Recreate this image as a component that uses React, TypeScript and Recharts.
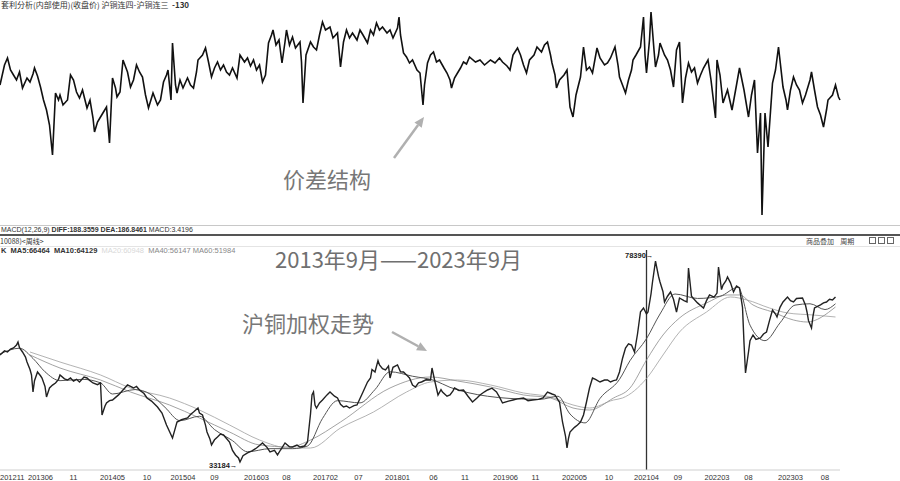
import React from "react";
import { LineChart, Line, XAxis, YAxis, ReferenceLine } from "recharts";

// Spread: 沪铜连四-沪铜连三 (week index since 2012-11, value in yuan)
const spreadPoints: [number, number][] = [
  [0,-55],[3,45],[5,80],[7,20],[9,-5],[11,-30],[13,10],[15,-70],[18,-20],[20,-40],[22,0],[23,30],[25,-10],[27,-65],[29,-130],[31,-180],[33,-255],[35,-405],[37,-95],[39,-130],[40,-105],[42,-155],[45,-130],[47,-5],[49,-30],[51,-90],[53,-120],[55,-80],[58,-170],[60,-130],[62,-220],[63,-290],[65,-240],[67,-215],[69,-190],[71,-165],[73,-345],[75,-20],[77,-70],[78,-115],[80,-90],[82,70],[85,10],[87,-65],[89,-30],[91,45],[93,10],[95,-15],[97,-105],[99,-170],[101,-120],[102,-95],[105,-155],[107,-130],[109,-40],[111,-5],[112,20],[114,-130],[115,155],[117,-55],[118,-95],[120,-30],[122,-70],[125,-20],[127,-55],[129,-70],[131,10],[132,70],[135,95],[137,130],[139,60],[141,-15],[143,30],[145,60],[147,20],[149,45],[151,10],[153,-5],[155,30],[158,-20],[160,95],[163,60],[165,80],[167,40],[169,70],[171,20],[173,45],[175,-40],[177,-5],[179,155],[181,195],[182,220],[184,145],[186,170],[188,55],[190,160],[191,220],[193,145],[195,185],[197,130],[200,160],[201,60],[202,-145],[204,95],[207,160],[209,135],[211,120],[213,195],[215,260],[217,220],[220,235],[222,180],[225,205],[227,35],[229,160],[231,220],[233,180],[235,205],[238,170],[240,220],[242,195],[245,155],[247,220],[249,195],[251,255],[253,220],[255,235],[258,205],[260,220],[262,180],[265,230],[266,285],[267,195],[269,105],[271,85],[273,55],[275,70],[278,20],[280,5],[282,-155],[283,-55],[285,55],[287,95],[289,110],[291,60],[293,70],[296,30],[298,5],[300,-30],[301,-70],[303,-20],[305,5],[307,30],[309,60],[311,50],[313,85],[317,60],[320,70],[323,45],[327,70],[330,55],[333,80],[335,60],[338,40],[340,20],[342,95],[345,130],[347,95],[349,45],[351,5],[353,70],[356,95],[358,135],[361,110],[363,145],[365,160],[367,95],[368,55],[370,-5],[371,-70],[373,-30],[376,-5],[378,20],[380,-165],[382,-215],[384,-105],[387,-15],[389,135],[391,20],[393,35],[395,5],[398,130],[400,80],[403,45],[405,55],[407,80],[410,135],[412,45],[413,-15],[415,-55],[417,-95],[419,-30],[421,20],[422,70],[424,95],[427,135],[429,285],[430,95],[431,5],[433,170],[434,310],[436,120],[437,35],[439,95],[440,155],[443,95],[445,70],[447,20],[449,-65],[451,120],[453,160],[455,-145],[457,-20],[459,55],[461,10],[463,30],[465,-45],[467,-5],[469,30],[472,70],[474,-30],[477,-220],[478,70],[480,-5],[482,-145],[485,-80],[488,-180],[491,-55],[493,30],[496,-80],[499,-215],[501,-105],[503,-30],[505,-395],[507,-195],[508,-705],[510,-195],[512,-365],[515,-45],[517,20],[519,135],[522,-65],[524,-130],[525,-180],[527,-80],[529,-15],[531,-55],[533,-80],[535,-145],[537,-105],[540,-30],[541,10],[543,-80],[545,-165],[547,-205],[549,-265],[551,-180],[552,-130],[555,-105],[557,-55],[559,-115],[560,-130]
];

// 沪铜加权 weekly close (week index, price)
const pricePoints: [number, number][] = [
  [0,57280],[3,58200],[5,57950],[7,58600],[9,58850],[11,59500],[12,60200],[13,58900],[15,57950],[17,56800],[18,55700],[20,54000],[21,52780],[22,48950],[23,51500],[25,53450],[27,52600],[28,52100],[30,50200],[31,47830],[33,49850],[35,50500],[37,50980],[39,51800],[40,52780],[43,51900],[45,51650],[47,52100],[49,51400],[51,51800],[53,51200],[56,52300],[58,52100],[60,51500],[62,50980],[65,50600],[67,50980],[68,43780],[70,45800],[71,46480],[73,47000],[75,47150],[79,48300],[82,49400],[85,50530],[89,49850],[91,50200],[93,49400],[96,48600],[98,47600],[101,46900],[105,45580],[108,44200],[111,41530],[115,38600],[117,41000],[118,42200],[121,42700],[125,43100],[127,43900],[129,44450],[132,45350],[133,44200],[135,43780],[137,41500],[138,39950],[140,38300],[141,37030],[143,38200],[145,38830],[147,39500],[149,39280],[151,38500],[153,37700],[155,35800],[157,34780],[159,34100],[160,33184],[162,34600],[165,35230],[168,35700],[171,36350],[173,36900],[175,37480],[178,36500],[180,35450],[183,35800],[185,34780],[187,35900],[190,37480],[193,36600],[195,36580],[198,37000],[200,36580],[203,36800],[205,37700],[207,44000],[208,48280],[209,48950],[210,46000],[211,45350],[213,46500],[215,47150],[218,48300],[220,48950],[223,48000],[225,47600],[227,46200],[229,45580],[231,45800],[233,45350],[236,45900],[238,46030],[240,47500],[242,48950],[245,51200],[247,52100],[248,54000],[250,53450],[252,56000],[253,55030],[255,54200],[257,53900],[259,54800],[260,52100],[262,54500],[265,55030],[267,53500],[269,53450],[271,52800],[273,52100],[275,50500],[277,50080],[279,51000],[281,51200],[284,51700],[287,51650],[288,54350],[290,51200],[292,48280],[294,49500],[295,48950],[298,48000],[300,48280],[302,49200],[303,49850],[306,49300],[309,49400],[312,48000],[315,46700],[318,47600],[320,48280],[323,49000],[325,49400],[328,49800],[331,48950],[333,47800],[335,46480],[339,46900],[342,47150],[345,47400],[349,47600],[352,47000],[355,47150],[359,47300],[362,47600],[365,48950],[368,48500],[370,48280],[372,47200],[373,46700],[375,42200],[377,39000],[378,36350],[379,38500],[380,39950],[383,41000],[385,41530],[387,42200],[389,43780],[391,46700],[393,49850],[395,52100],[397,51800],[400,51200],[403,51650],[405,51650],[407,51200],[409,51500],[411,51650],[413,53450],[415,56500],[417,58850],[419,59800],[421,59530],[423,57950],[425,62000],[427,67000],[429,67850],[431,66500],[432,66950],[434,71000],[435,73700],[437,78390],[439,75000],[440,73700],[442,71500],[443,69200],[445,70500],[447,71450],[449,69800],[451,66950],[453,70100],[456,69500],[458,69200],[459,76850],[461,70500],[462,70100],[465,69000],[467,68400],[469,67850],[471,69500],[473,70780],[476,70300],[478,71200],[479,77080],[481,72000],[482,73030],[484,74000],[485,74830],[487,73500],[489,71450],[491,72800],[493,72350],[495,68000],[496,60000],[497,53230],[499,57950],[500,60500],[502,61780],[504,60800],[507,61100],[509,62000],[511,62450],[513,65000],[515,67400],[517,66500],[518,65830],[520,68000],[522,69200],[525,70330],[527,69500],[529,69200],[531,70000],[535,70100],[537,68500],[538,66950],[539,65000],[541,63350],[542,66000],[543,67850],[545,68200],[547,68550],[549,69000],[551,69200],[553,69800],[555,69650],[557,70330]
];

const ma20Points: [number, number][] = [
  [0,57500],[13,58800],[22,56500],[30,53500],[40,51500],[55,51800],[67,51000],[75,48500],[90,49500],[100,48500],[110,45500],[120,42500],[133,43500],[143,40500],[155,38000],[165,35500],[180,36200],[195,36200],[205,36800],[215,43000],[225,47000],[240,46500],[250,49500],[260,53500],[275,52500],[290,51500],[300,50000],[312,48800],[325,48000],[340,47500],[360,47300],[372,48000],[380,44000],[390,42000],[400,47500],[413,51800],[420,56000],[431,60948],[440,66500],[450,71000],[465,70000],[480,70500],[492,72500],[500,64000],[510,60500],[520,64500],[530,68500],[540,68800],[550,67500],[557,68800]
];

const ma40Points: [number, number][] = [
  [20,57280],[40,54350],[67,51650],[87,48950],[113,46030],[133,43100],[153,39950],[173,37030],[193,36580],[207,38150],[227,42200],[260,49850],[287,52330],[305,51430],[327,50080],[349,48280],[367,47600],[382,45350],[393,44900],[409,47600],[420,49850],[431,56147],[442,61780],[453,65600],[471,68980],[485,70780],[493,70780],[502,68530],[515,66950],[529,65150],[538,64700],[557,68080]
];

const ma60Points: [number, number][] = [
  [20,57950],[40,55700],[67,52780],[87,49850],[113,47600],[133,44900],[153,41530],[173,38150],[193,36350],[207,36350],[227,40850],[249,44450],[271,48950],[287,51200],[305,51650],[327,50530],[349,48730],[367,47830],[382,46030],[393,45350],[409,47150],[415,47600],[431,51984],[442,57280],[453,62450],[471,66950],[487,70330],[498,69650],[513,67850],[525,66730],[542,66280],[557,65830]
];

const tickWeeks = [8,27,49,75,98,122,143,171,191,217,239,265,289,310,337,357,383,406,431,452,478,499,527,550];
const tickLabels = ["201211","201306","11","201405","10","201504","09","201603","08","201702","07","201801","06","11","201906","11","202005","10","202104","09","202203","08","202303","08"];

const toRows = (pts: [number, number][]) => pts.map(([w, v]) => ({ w, v }));

const spreadRows = toRows(spreadPoints);
const priceRows = toRows(pricePoints);
const ma20Rows = toRows(ma20Points);
const ma40Rows = toRows(ma40Points);
const ma60Rows = toRows(ma60Points);

const small = "'Liberation Sans', Arial, sans-serif";
const cjk = "'Noto Sans CJK SC', 'Noto Sans', sans-serif";

const AxisTick = (props: any) => {
  const { x, y, payload } = props;
  const i = tickWeeks.indexOf(payload.value);
  return (
    <text x={i === 0 ? 0 : x} y={y} dy="0.71em" textAnchor={i === 0 ? "start" : "middle"} fontSize={7.5} fill="#333" fontFamily={small}>
      {tickLabels[i]}
    </text>
  );
};

function Arrow({ x1, y1, x2, y2 }: { x1: number; y1: number; x2: number; y2: number }) {
  const dx = x2 - x1, dy = y2 - y1;
  const len = Math.hypot(dx, dy);
  const ux = dx / len, uy = dy / len;
  const bx = x2 - ux * 10, by = y2 - uy * 10;
  const px = -uy * 4.5, py = ux * 4.5;
  return (
    <g>
      <line x1={x1} y1={y1} x2={bx} y2={by} stroke="#b0b0b0" strokeWidth={2.5} />
      <polygon points={`${x2},${y2} ${bx + px},${by + py} ${bx - px},${by - py}`} fill="#b0b0b0" />
    </g>
  );
}

export default function App() {
  return (
    <div style={{ position: "absolute", left: 0, top: 0, width: 900, height: 481, background: "#fff", overflow: "hidden", fontFamily: cjk }}>
      {/* top panel */}
      <div style={{ position: "absolute", left: 0, top: 0 }}>
        <LineChart width={900} height={230} margin={{ top: 12, right: 60, bottom: 8, left: 0 }}>
          <XAxis type="number" dataKey="w" domain={[0, 560]} hide />
          <YAxis type="number" domain={[-740, 310]} hide />
          <Line data={spreadRows} dataKey="v" type="linear" stroke="#111" strokeWidth={1.6} strokeLinejoin="miter" dot={false} isAnimationActive={false} />
        </LineChart>
      </div>
      <div style={{ position: "absolute", left: 1, top: 0, fontSize: 8, color: "#333", whiteSpace: "nowrap", lineHeight: "10px" }}>
        套利分析(内部使用)(收盘价) 沪铜连四-沪铜连三 &nbsp;<b>-130</b>
      </div>

      {/* separators */}
      <div style={{ position: "absolute", left: 0, top: 225, width: 900, height: 1, background: "#c8c8c8" }} />
      <div style={{ position: "absolute", left: 1, top: 226, fontSize: 7, color: "#333", fontFamily: small, whiteSpace: "nowrap", lineHeight: "8px" }}>
        MACD(12,26,9) <b>DIFF:188.3559 DEA:186.8461</b> MACD:3.4196
      </div>
      <div style={{ position: "absolute", left: 0, top: 234, width: 900, height: 2, background: "#555" }} />
      <div style={{ position: "absolute", left: 0, top: 237, fontSize: 7, color: "#333", whiteSpace: "nowrap", lineHeight: "8px" }}>
        10088)&lt;周线&gt;
      </div>
      <div style={{ position: "absolute", left: 0, top: 246, width: 900, height: 1, background: "#e4e4e4" }} />
      <div style={{ position: "absolute", left: 1, top: 246, fontSize: 7.5, fontFamily: small, whiteSpace: "nowrap", lineHeight: "9px" }}>
        <b style={{ color: "#333" }}>K &nbsp;MA5:66464 &nbsp;MA10:64129</b>
        <span style={{ color: "#d8d8d8" }}> &nbsp;MA20:60948</span>
        <span style={{ color: "#888" }}> &nbsp;MA40:56147 MA60:51984</span>
      </div>
      <div style={{ position: "absolute", left: 806, top: 237, fontSize: 7, color: "#444", whiteSpace: "nowrap", lineHeight: "8px" }}>
        商品叠加 &nbsp; &nbsp;周期
      </div>
      {[869, 878, 887].map((l) => (
        <div key={l} style={{ position: "absolute", left: l, top: 237, width: 7, height: 7, border: "1px solid #666", boxSizing: "border-box" }} />
      ))}

      {/* bottom panel */}
      <div style={{ position: "absolute", left: 0, top: 245 }}>
        <LineChart width={900} height={236} margin={{ top: 5, right: 60, bottom: 0, left: 0 }}>
          <XAxis
            type="number"
            dataKey="w"
            domain={[0, 560]}
            ticks={tickWeeks}
            interval={0}
            tick={<AxisTick />}
            tickLine={false}
            tickSize={3}
            axisLine={{ stroke: "#cfcfcf" }}
            height={11}
          />
          <YAxis type="number" domain={[31400, 80900]} hide />
          <ReferenceLine x={431} stroke="#333" strokeWidth={1.3} />
          <Line data={ma60Rows} dataKey="v" type="monotone" stroke="#a0a0a0" strokeWidth={0.8} dot={false} isAnimationActive={false} />
          <Line data={ma40Rows} dataKey="v" type="monotone" stroke="#8c8c8c" strokeWidth={0.8} dot={false} isAnimationActive={false} />
          <Line data={ma20Rows} dataKey="v" type="monotone" stroke="#555" strokeWidth={1} dot={false} isAnimationActive={false} />
          <Line data={priceRows} dataKey="v" type="linear" stroke="#222" strokeWidth={1.4} dot={false} isAnimationActive={false} />
        </LineChart>
      </div>
      <div style={{ position: "absolute", left: 625, top: 251, fontSize: 7.5, fontWeight: "bold", color: "#222", fontFamily: small, whiteSpace: "nowrap", lineHeight: "9px" }}>
        78390→
      </div>
      <div style={{ position: "absolute", left: 209, top: 461, fontSize: 7.5, fontWeight: "bold", color: "#222", fontFamily: small, whiteSpace: "nowrap", lineHeight: "9px" }}>
        33184→
      </div>

      {/* annotations */}
      <div style={{ position: "absolute", left: 283, top: 164, fontSize: 22, color: "#777", whiteSpace: "nowrap", lineHeight: "28px" }}>价差结构</div>
      <div style={{ position: "absolute", left: 275, top: 244, fontSize: 22, color: "#707070", whiteSpace: "nowrap", lineHeight: "28px" }}>2013年9月——2023年9月</div>
      <div style={{ position: "absolute", left: 242, top: 308, fontSize: 22, color: "#777", whiteSpace: "nowrap", lineHeight: "28px" }}>沪铜加权走势</div>
      <svg width={900} height={481} style={{ position: "absolute", left: 0, top: 0, pointerEvents: "none" }}>
        <Arrow x1={394} y1={158} x2={424} y2={117} />
        <Arrow x1={392} y1={332} x2={427} y2={351} />
      </svg>
    </div>
  );
}
